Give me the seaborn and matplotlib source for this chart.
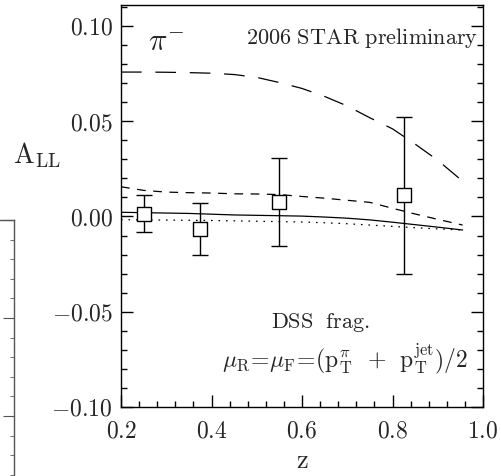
import numpy as np
import pandas as pd
import matplotlib
matplotlib.use("Agg")
import matplotlib.pyplot as plt
from matplotlib.ticker import MultipleLocator
import seaborn as sns

# ---- data -------------------------------------------------------------
z_curve = [0.20, 0.25, 0.30, 0.35, 0.40, 0.45, 0.50, 0.55, 0.60, 0.65,
           0.70, 0.75, 0.80, 0.85, 0.90, 0.955]
all_long = [0.0758, 0.0758, 0.0757, 0.0755, 0.0752, 0.0745, 0.0730, 0.0703,
            0.0672, 0.0630, 0.0580, 0.0518, 0.0460, 0.0380, 0.0295, 0.0185]
all_short = [0.0156, 0.0137, 0.0128, 0.0125, 0.0123, 0.0119, 0.0118, 0.0115,
             0.0105, 0.0096, 0.0085, 0.0074, 0.0043, 0.0013, -0.0015, -0.0045]
all_solid = [0.0022, 0.0020, 0.0018, 0.0016, 0.0012, 0.0008, 0.0006, 0.0004,
             0.0002, -0.0003, -0.0009, -0.0018, -0.0030, -0.0043, -0.0056, -0.0071]
all_dotted = [-0.0017, -0.0018, -0.0019, -0.0020, -0.0021, -0.0023, -0.0025, -0.0027,
              -0.0029, -0.0033, -0.0038, -0.0045, -0.0052, -0.0059, -0.0065, -0.0071]

z_data = [0.25, 0.375, 0.55, 0.825]
all_data = [0.0014, -0.0066, 0.0075, 0.0112]
all_err = [0.0098, 0.0137, 0.0230, 0.0412]

xticks = [0.2, 0.4, 0.6, 0.8, 1.0]
xtick_labels = ["0.2", "0.4", "0.6", "0.8", "1.0"]
yticks = [-0.10, -0.05, 0.00, 0.05, 0.10]
ytick_labels = ["-0.10", "-0.05", "0.00", "0.05", "0.10"]

# ---- style ------------------------------------------------------------
sns.set_style("ticks")
plt.rcParams["mathtext.fontset"] = "cm"
plt.rcParams["font.family"] = ["DejaVu Serif"]

W, H = 501, 476
fig = plt.figure(figsize=(W / 100, H / 100), dpi=100)
ax = fig.add_axes([121 / W, 1 - 407 / H, (483 - 121) / W, (407 - 5) / H])

df = pd.DataFrame({"z": z_curve * 4,
                   "A": all_long + all_short + all_solid + all_dotted,
                   "curve": ["long"] * len(z_curve) + ["short"] * len(z_curve)
                            + ["solid"] * len(z_curve) + ["dot"] * len(z_curve)})

styles = {"long": (16.5, 11), "short": (7, 6), "solid": "", "dot": (1.3, 4.7)}
sns.lineplot(data=df, x="z", y="A", style="curve", dashes=styles,
             color="black", lw=0.9, legend=False, ax=ax, sort=False)

ax.errorbar(z_data, all_data, yerr=all_err, fmt="none", ecolor="black",
            elinewidth=1.0, capsize=5.5, capthick=1.0, zorder=3)
sns.scatterplot(x=z_data, y=all_data, marker="s", s=95, facecolor="white",
                edgecolor="black", linewidth=1.0, ax=ax, zorder=4)

ax.set_xlim(0.2, 1.0)
ax.set_ylim(-0.10, 0.111)
ax.set_xticks(xticks, labels=[f"${t}$" for t in xtick_labels])
ax.set_yticks(yticks, labels=[f"${t}$" for t in ytick_labels])
ax.xaxis.set_minor_locator(MultipleLocator(0.04))
ax.yaxis.set_minor_locator(MultipleLocator(0.01))
ax.tick_params(which="both", direction="in", right=True, top=False,
               labelsize=17, width=1.0, color="black")
ax.tick_params(which="major", length=8.5, pad=6)
ax.tick_params(which="minor", length=4.3)
ax.tick_params(axis="x", which="major", pad=9)
for s in ax.spines.values():
    s.set_linewidth(1.0)
    s.set_color("black")
ax.set_xlabel("")
ax.set_ylabel("")

ax.text(0.26, 0.0870, r"$\pi^{-}$", fontsize=22, ha="left", va="baseline")
ax.text(0.989, 0.0937, r"$\mathrm{2006\ STAR\ preliminary}$", fontsize=16,
        ha="right", va="center")
ax.text(0.64, -0.0559, r"$\mathrm{DSS\ \ frag.}$", fontsize=16,
        ha="center", va="center")
ax.text(0.694, -0.0745,
        r"$\mu_{\rm R}\!=\!\mu_{\rm F}\!=\!({\rm p}_{\rm T}^{\pi}\ \,+\ \,{\rm p}_{\rm T}^{\rm jet})/2$",
        fontsize=17, ha="center", va="center")

fig.text(37 / W, 1 - 155 / H, r"$\mathrm{A_{LL}}$", fontsize=20,
         ha="center", va="center")
fig.text(302 / W, 1 - 473 / H, r"$\mathrm{z}$", fontsize=19,
         ha="center", va="bottom")

# fragment of a neighbouring panel at the left edge
ax2 = fig.add_axes([-0.2, 0.0, 0.2 + 13.5 / W, (476 - 220) / H])
ax2.set_ylim(-1.612, 1.0)
ax2.set_xlim(0, 1)
for k in ["left", "bottom"]:
    ax2.spines[k].set_visible(False)
for k in ["right", "top"]:
    ax2.spines[k].set_linewidth(1.0)
    ax2.spines[k].set_color("#555555")
ax2.set_xticks([])
ax2.yaxis.set_major_locator(MultipleLocator(1.0))
ax2.yaxis.set_minor_locator(MultipleLocator(0.2))
ax2.tick_params(axis="y", which="both", left=False, right=True, labelleft=False,
                labelright=False, direction="in", color="#555555")
ax2.tick_params(axis="y", which="major", length=8)
ax2.tick_params(axis="y", which="minor", length=3)

fig.savefig("out.png", dpi=100)
